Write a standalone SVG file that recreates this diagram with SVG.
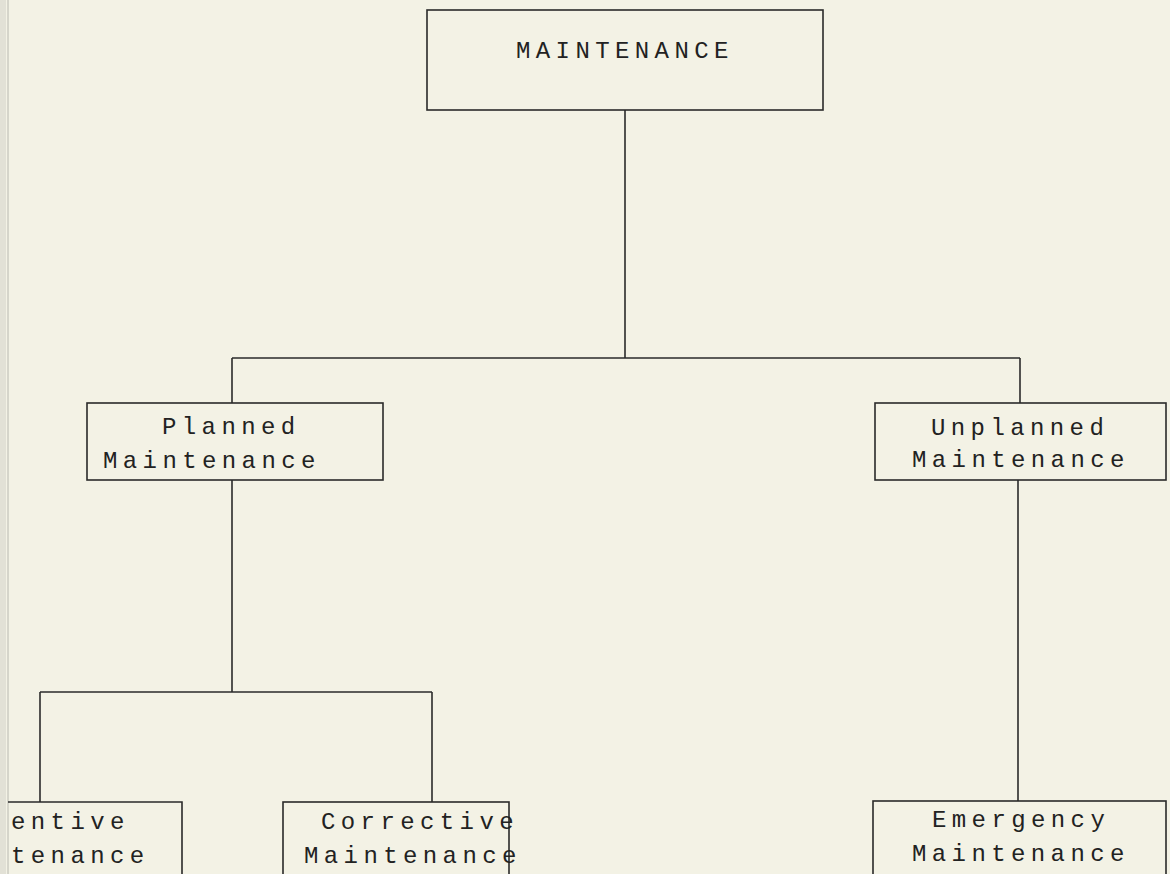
<svg xmlns="http://www.w3.org/2000/svg" width="1170" height="874" viewBox="0 0 1170 874">
<style>
.bg{fill:#f3f2e5}
.box{fill:none;stroke:#2a2a2a;stroke-width:1.6}
.ln{fill:none;stroke:#2a2a2a;stroke-width:1.6}
.t{font-family:"Liberation Mono","Courier New",monospace;font-size:24px;letter-spacing:5.4px;fill:#222}
</style>
<rect class="bg" x="0" y="0" width="1170" height="874"/>
<rect x="0" y="0" width="6" height="874" fill="#e2e1d6"/>
<line x1="8" y1="0" x2="8" y2="874" stroke="#b8b8b0" stroke-width="1"/>
<g id="connectors">
<line class="ln" x1="625" y1="110" x2="625" y2="358"/>
<line class="ln" x1="232" y1="358" x2="1020" y2="358"/>
<line class="ln" x1="232" y1="358" x2="232" y2="403"/>
<line class="ln" x1="1020" y1="358" x2="1020" y2="403"/>
<line class="ln" x1="232" y1="480" x2="232" y2="692"/>
<line class="ln" x1="40" y1="692" x2="432" y2="692"/>
<line class="ln" x1="40" y1="692" x2="40" y2="802"/>
<line class="ln" x1="432" y1="692" x2="432" y2="802"/>
<line class="ln" x1="1018" y1="480" x2="1018" y2="801"/>
</g>
<g id="maintenance">
<rect class="box" x="427" y="10" width="396" height="100"/>
<text class="t" x="516" y="58">MAINTENANCE</text>
</g>
<g id="planned">
<rect class="box" x="87" y="403" width="296" height="77"/>
<text class="t" x="162" y="434">Planned</text>
<text class="t" x="103" y="468">Maintenance</text>
</g>
<g id="unplanned">
<rect class="box" x="875" y="403" width="291" height="77"/>
<text class="t" x="931" y="435">Unplanned</text>
<text class="t" x="912" y="467">Maintenance</text>
</g>
<g id="preventive">
<polyline class="box" points="8,802 182,802 182,874"/>
<text class="t" x="11" y="829">entive</text>
<text class="t" x="11" y="863">tenance</text>
</g>
<g id="corrective">
<rect class="box" x="283" y="802" width="226" height="80"/>
<text class="t" x="321" y="829">Corrective</text>
<text class="t" x="304" y="863">Maintenance</text>
</g>
<g id="emergency">
<rect class="box" x="873" y="801" width="293" height="80"/>
<text class="t" x="932" y="827">Emergency</text>
<text class="t" x="912" y="861">Maintenance</text>
</g>
</svg>
